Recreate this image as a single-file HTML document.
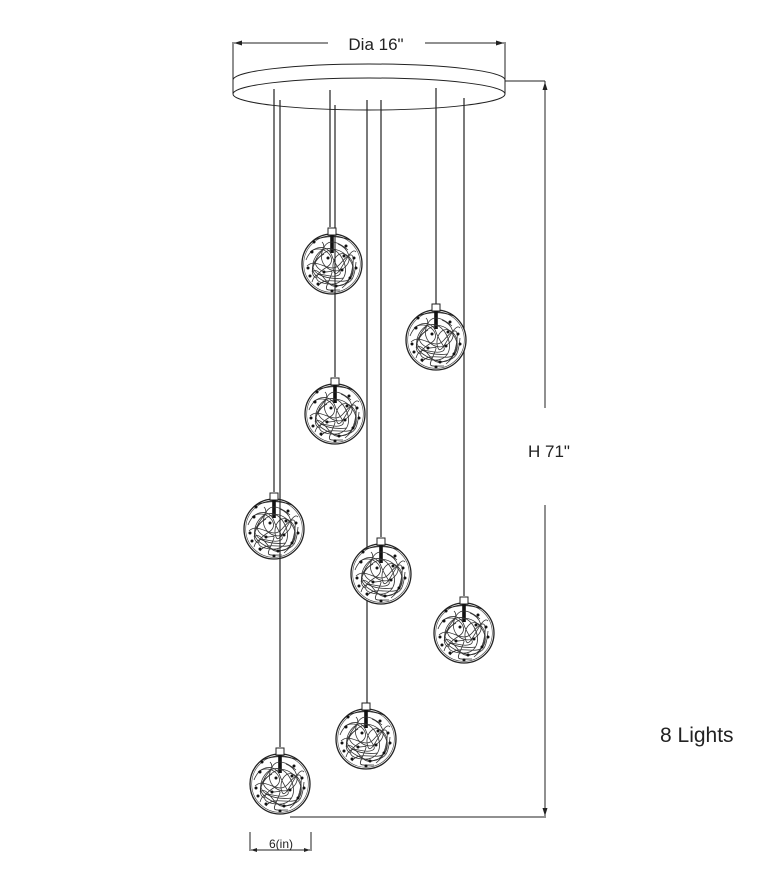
<!DOCTYPE html>
<html><head><meta charset="utf-8"><style>
html,body{margin:0;padding:0;background:#fff}
svg{display:block}
text{font-family:"Liberation Sans",sans-serif;fill:#222}
</style></head><body>
<svg width="780" height="880" viewBox="0 0 780 880">
<defs>
<g id="g">
  <circle cx="0" cy="0" r="30" fill="#fff" stroke="#222" stroke-width="1.3"/>
  <circle cx="0" cy="0" r="28.3" fill="none" stroke="#444" stroke-width="0.6"/>
  <rect x="-4" y="-36" width="8" height="7" fill="#fff" stroke="#222" stroke-width="1"/>
  <path d="M-18,-24 Q0,-31 18,-24" fill="none" stroke="#222" stroke-width="1"/>
  <rect x="-1.8" y="-29" width="3.6" height="18" fill="#111"/>
  <g fill="none" stroke="#333" stroke-width="0.8">
    <path d="M-22,-12 C-10,-22 8,-5 -5,3 S-20,18 -4,20 S18,8 10,-6 S-12,-18 -18,-4 S-6,16 12,14"/>
    <path d="M-25,2 C-15,-8 -2,12 8,0 S24,-14 20,6 S4,24 -10,16 S-22,-2 -8,-10"/>
    <path d="M-14,22 C-6,10 14,24 20,12 S10,-18 -2,-14 S-26,8 -16,14"/>
    <path d="M6,-20 C16,-16 22,-4 12,4 S-14,2 -10,-12 S4,-24 16,-14"/>
    <path d="M-20,8 C-12,0 -6,26 6,22 S22,20 24,-2"/>
    <path d="M-26,-4 C-20,-20 -4,-20 0,-8 S14,10 4,12 S-16,4 -20,18"/>
    <path d="M10,24 C20,16 26,0 16,-8 S-2,-2 2,8 S18,-20 24,-12"/>
    <path d="M-10,-22 C-2,-14 -24,-6 -14,4 S4,0 -2,14 S-8,26 8,26"/>
  </g>
  <g fill="#111">
    <circle cx="-20" cy="-12" r="1.5"/><circle cx="14" cy="-18" r="1.5"/><circle cx="22" cy="-6" r="1.5"/>
    <circle cx="-24" cy="4" r="1.5"/><circle cx="-8" cy="8" r="1.5"/><circle cx="10" cy="6" r="1.5"/>
    <circle cx="18" cy="14" r="1.5"/><circle cx="-14" cy="20" r="1.5"/><circle cx="4" cy="22" r="1.5"/>
    <circle cx="-4" cy="-6" r="1.5"/><circle cx="24" cy="4" r="1.5"/><circle cx="-18" cy="-22" r="1.5"/>
    <circle cx="0" cy="27" r="1.5"/><circle cx="-22" cy="12" r="1.5"/><circle cx="12" cy="-8" r="1.5"/>
  </g>
</g>
</defs>

<g stroke="#222" stroke-width="1" fill="none">
  <line x1="233" y1="42" x2="233" y2="80"/>
  <line x1="505" y1="42" x2="505" y2="80"/>
  <line x1="234" y1="43" x2="328" y2="43"/>
  <line x1="425" y1="43" x2="504" y2="43"/>
</g>
<path d="M234,43 l8,-2.5 v5 z M504,43 l-8,-2.5 v5 z" fill="#222"/>
<text x="376" y="50" font-size="17" text-anchor="middle">Dia 16"</text>

<g stroke="#222" stroke-width="1" fill="none">
  <path d="M233,80 A136,16 0 0 1 505,80"/>
  <ellipse cx="369" cy="94" rx="136" ry="16" fill="#fff"/>
  <line x1="233" y1="80" x2="233" y2="94"/>
  <line x1="505" y1="80" x2="505" y2="94"/>
</g>

<g stroke="#222" stroke-width="1.2">
  <line x1="274" y1="89" x2="274" y2="492"/>
  <line x1="280" y1="100" x2="280" y2="747"/>
  <line x1="330" y1="90" x2="330" y2="227"/>
  <line x1="335" y1="105" x2="335" y2="377"/>
  <line x1="367" y1="100" x2="367" y2="703"/>
  <line x1="381" y1="100" x2="381" y2="537"/>
  <line x1="436" y1="88" x2="436" y2="304"/>
  <line x1="464" y1="98" x2="464" y2="596"/>
</g>

<use href="#g" x="332" y="264"/>
<use href="#g" x="436" y="340"/>
<use href="#g" x="335" y="414"/>
<use href="#g" x="274" y="529"/>
<use href="#g" x="381" y="574"/>
<use href="#g" x="464" y="633"/>
<use href="#g" x="366" y="739"/>
<use href="#g" x="280" y="784"/>

<g stroke="#222" stroke-width="1.1">
  <line x1="335" y1="236" x2="335" y2="294"/>
  <line x1="280" y1="500" x2="280" y2="559"/>
</g>

<g stroke="#222" stroke-width="1" fill="none">
  <line x1="505" y1="81" x2="545" y2="81"/>
  <line x1="545" y1="81" x2="545" y2="408"/>
  <line x1="545" y1="505" x2="545" y2="816"/>
  <line x1="290" y1="817" x2="546" y2="817"/>
</g>
<path d="M545,82 l-2.5,8 h5 z M545,816 l-2.5,-8 h5 z" fill="#222"/>
<text x="549" y="457" font-size="17" text-anchor="middle">H 71"</text>

<g stroke="#222" stroke-width="1" fill="none">
  <line x1="250" y1="832" x2="250" y2="851"/>
  <line x1="311" y1="832" x2="311" y2="851"/>
  <line x1="251" y1="850" x2="310" y2="850"/>
</g>
<path d="M251,850 l6,-2 v4 z M310,850 l-6,-2 v4 z" fill="#222"/>
<text x="281" y="848" font-size="12" text-anchor="middle">6(in)</text>

<text x="660" y="742" font-size="21">8 Lights</text>
</svg>
</body></html>
